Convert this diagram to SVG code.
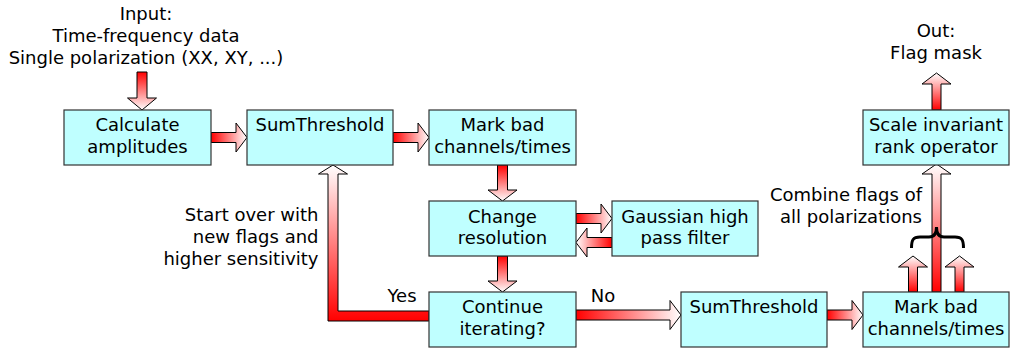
<svg xmlns="http://www.w3.org/2000/svg" width="1012" height="349" viewBox="0 0 1012 349">
  <defs>
    <linearGradient id="gRight" x1="0" y1="0" x2="1" y2="0">
      <stop offset="0" stop-color="#ff0000"/>
      <stop offset="1" stop-color="#ffffff"/>
    </linearGradient>
    <linearGradient id="gLeft" x1="1" y1="0" x2="0" y2="0">
      <stop offset="0" stop-color="#ff0000"/>
      <stop offset="1" stop-color="#ffffff"/>
    </linearGradient>
    <linearGradient id="gDown" x1="0" y1="0" x2="0" y2="1">
      <stop offset="0" stop-color="#ff0000"/>
      <stop offset="1" stop-color="#ffffff"/>
    </linearGradient>
    <linearGradient id="gUp" x1="0" y1="1" x2="0" y2="0">
      <stop offset="0" stop-color="#ff0000"/>
      <stop offset="1" stop-color="#ffffff"/>
    </linearGradient>
  </defs>
  <style>
    text { font-family: "DejaVu Sans", "Noto Sans", sans-serif; font-size: 18px; fill: #000; }
    .box { fill: #bfffff; stroke: #333; stroke-width: 1.2; }
    .c { text-anchor: middle; }
    .e { text-anchor: end; }
    .arrow { stroke: #000; stroke-width: 1; stroke-linejoin: miter; }
    .r { fill: url(#gRight); }
    .l { fill: url(#gLeft); }
    .d { fill: url(#gDown); }
    .u { fill: url(#gUp); }
    .brace { fill: none; stroke: #000; stroke-width: 3; stroke-linecap: butt; }
  </style>

  <rect width="1012" height="349" fill="#ffffff"/>

  <!-- connectors -->
  <g id="connectors">
    <polygon class="arrow d" points="137,72 147,72 147,98 156.5,98 142,110 127.5,98 137,98"/>
    <polygon class="arrow r" points="211,132.5 236,132.5 236,123 247,137.5 236,152 236,142.5 211,142.5"/>
    <polygon class="arrow r" points="393,132.5 418,132.5 418,123 429,137.5 418,152 418,142.5 393,142.5"/>
    <polygon class="arrow d" points="497.5,165 507.5,165 507.5,190 517,190 502.5,201 488,190 497.5,190"/>
    <polygon class="arrow r" points="576,213.5 601,213.5 601,204 612,218.5 601,233 601,223.5 576,223.5"/>
    <polygon class="arrow l" points="612,237.5 587,237.5 587,228 576,242.5 587,257 587,247.5 612,247.5"/>
    <polygon class="arrow d" points="497.5,256 507.5,256 507.5,281 517,281 502.5,292 488,281 497.5,281"/>
    <!-- iteration loop back to SumThreshold -->
    <polygon class="arrow u" points="429,311 338,311 338,174 347.5,174 333,165 318.5,174 328,174 328,321 429,321"/>
    <polygon class="arrow r" points="576,310 670,310 670,300.5 681,315 670,329.5 670,320 576,320"/>
    <polygon class="arrow r" points="827,310 852,310 852,300.5 863,315 852,329.5 852,320 827,320"/>
    <polygon class="arrow u" points="908.5,292 917.5,292 917.5,267 927.5,267 913,256 898.5,267 908.5,267"/>
    <polygon class="arrow u" points="955,292 964,292 964,267 974,267 959.5,256 945,267 955,267"/>
    <polygon class="arrow u" points="932,292 941,292 941,174 951,174 936.5,164 922,174 932,174"/>
    <polygon class="arrow u" points="932,110 941,110 941,84 951,84 936.5,73 922,84 932,84"/>
    <path class="brace" d="M 911.5,248 C 911.5,240 913,237 920,237 L 929,237 C 934,237 936.5,234 936.5,227 C 936.5,234 939,237 944,237 L 955,237 C 962,237 963.5,240 963.5,248"/>
  </g>

  <!-- free labels -->
  <g id="input-label">
    <text class="c" x="146" y="19.5">Input:</text>
    <text class="c" x="146" y="41.5">Time-frequency data</text>
    <text class="c" x="146" y="63.5">Single polarization (XX, XY, ...)</text>
  </g>
  <g id="output-label">
    <text class="c" x="936" y="37">Out:</text>
    <text class="c" x="936" y="59">Flag mask</text>
  </g>
  <g id="combine-label">
    <text class="e" x="922" y="201">Combine flags of</text>
    <text class="e" x="922" y="223">all polarizations</text>
  </g>
  <g id="restart-label">
    <text class="e" x="318.5" y="220.5">Start over with</text>
    <text class="e" x="318.5" y="242.5">new flags and</text>
    <text class="e" x="318.5" y="264.5">higher sensitivity</text>
  </g>
  <text class="c" x="402" y="302">Yes</text>
  <text class="c" x="603" y="302">No</text>

  <!-- nodes -->
  <g id="calc-amplitudes">
    <rect class="box" x="64" y="110" width="147" height="55"/>
    <text class="c" x="137.5" y="131">Calculate</text>
    <text class="c" x="137.5" y="152.8">amplitudes</text>
  </g>
  <g id="sumthreshold-1">
    <rect class="box" x="247" y="110" width="146" height="55"/>
    <text class="c" x="320" y="131">SumThreshold</text>
  </g>
  <g id="mark-bad-1">
    <rect class="box" x="429" y="110" width="147" height="55"/>
    <text class="c" x="502.5" y="131">Mark bad</text>
    <text class="c" x="502.5" y="152.8">channels/times</text>
  </g>
  <g id="change-resolution">
    <rect class="box" x="429" y="201" width="147" height="55"/>
    <text class="c" x="502.5" y="222.5">Change</text>
    <text class="c" x="502.5" y="244">resolution</text>
  </g>
  <g id="gaussian-filter">
    <rect class="box" x="612" y="201" width="146" height="55"/>
    <text class="c" x="685" y="222.5">Gaussian high</text>
    <text class="c" x="685" y="244">pass filter</text>
  </g>
  <g id="continue-iterating">
    <rect class="box" x="429" y="292" width="147" height="55"/>
    <text class="c" x="502.5" y="313">Continue</text>
    <text class="c" x="502.5" y="334.8">iterating?</text>
  </g>
  <g id="sumthreshold-2">
    <rect class="box" x="681" y="292" width="146" height="55"/>
    <text class="c" x="754" y="313">SumThreshold</text>
  </g>
  <g id="mark-bad-2">
    <rect class="box" x="863" y="292" width="146" height="55"/>
    <text class="c" x="936" y="313">Mark bad</text>
    <text class="c" x="936" y="334.8">channels/times</text>
  </g>
  <g id="rank-operator">
    <rect class="box" x="863" y="110" width="146" height="55"/>
    <text class="c" x="936" y="131">Scale invariant</text>
    <text class="c" x="936" y="152.8">rank operator</text>
  </g>
</svg>
